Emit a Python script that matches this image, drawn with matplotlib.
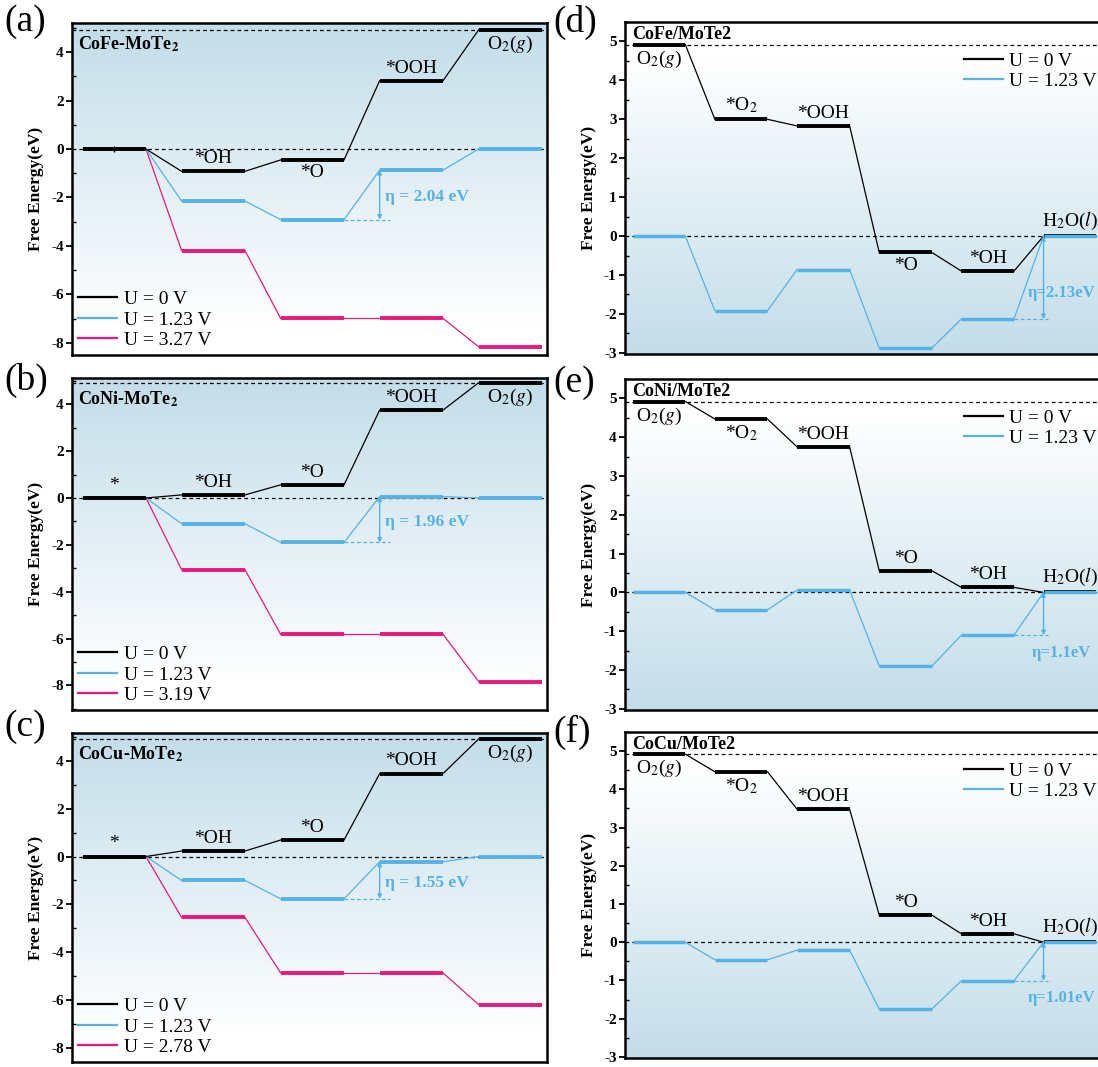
import numpy as np
import matplotlib
matplotlib.use('Agg')
import matplotlib.pyplot as plt
from matplotlib.colors import LinearSegmentedColormap
from matplotlib.lines import Line2D
from matplotlib.ticker import MultipleLocator

plt.rcParams['font.family'] = ['Liberation Serif', 'DejaVu Serif']
plt.rcParams['mathtext.fontset'] = 'stix'
plt.rcParams['axes.unicode_minus'] = False

BLACK = '#000000'
BLUE = '#55b2e4'
PINK = '#e8187c'
BG = '#c3dde9'

# ---- OER pathways (left column) ----
oer_steps = ['*', '*OH', '*O', '*OOH', 'O$_2$($g$)']
cofe_u0 = [0, -0.92, -0.45, 2.82, 4.92]
cofe_u123 = [0, -2.15, -2.91, -0.87, 0]
cofe_ul = [0, -4.19, -6.99, -6.99, -8.16]
coni_u0 = [0, 0.13, 0.56, 3.75, 4.92]
coni_u123 = [0, -1.10, -1.90, 0.06, 0]
coni_ul = [0, -3.06, -5.82, -5.82, -7.84]
cocu_u0 = [0, 0.23, 0.69, 3.47, 4.92]
cocu_u123 = [0, -1.00, -1.77, -0.22, 0]
cocu_ul = [0, -2.55, -4.87, -4.87, -6.20]
oer_names = ['CoFe-MoTe', 'CoNi-MoTe', 'CoCu-MoTe']
oer_ul = ['3.27', '3.19', '2.78']
oer_eta = ['2.04', '1.96', '1.55']

# ---- ORR pathways (right column) ----
orr_steps = ['O$_2$($g$)', '*O$_2$', '*OOH', '*O', '*OH', 'H$_2$O($l$)']
cofe_orr_u0 = [4.92, 3.00, 2.83, -0.42, -0.90, 0]
cofe_orr_u123 = [0, -1.92, -0.86, -2.88, -2.13, 0]
coni_orr_u0 = [4.92, 4.47, 3.75, 0.56, 0.13, 0]
coni_orr_u123 = [0, -0.45, 0.06, -1.90, -1.10, 0]
cocu_orr_u0 = [4.92, 4.46, 3.48, 0.71, 0.22, 0]
cocu_orr_u123 = [0, -0.46, -0.21, -1.75, -1.01, 0]
orr_names = ['CoFe/MoTe2', 'CoNi/MoTe2', 'CoCu/MoTe2']
orr_eta = ['2.13', '1.1', '1.01']

# label placement: +1 above the level, -1 below
oer_label_side = [[0, 1, -1, 1, -1], [1, 1, 1, 1, -1], [1, 1, 1, 1, -1]]
orr_label_side = [[-1, 1, 1, -1, 1, 1], [-1, -1, 1, 1, 1, 1], [-1, -1, 1, 1, 1, 1]]
orr_eta_text_y = [-1.45, -1.57, -1.47]

LW = 0.64  # level width (in step units)
FW, FH = 1098, 1067


def box(x0, y0, x1, y1):
    return [x0 / FW, 1 - y1 / FH, (x1 - x0) / FW, (y1 - y0) / FH]


def gradient(ax, top_blue):
    cmap = LinearSegmentedColormap.from_list('bg', ['white', BG])
    y = np.linspace(0, 1, 256).reshape(-1, 1)
    g = np.clip((y - 0.08) / 0.92, 0, 1) if top_blue else np.clip((0.9 - y) / 0.9, 0, 1)
    ax.imshow(g, cmap=cmap, vmin=0, vmax=1, extent=[0, 1, 0, 1], origin='lower',
              transform=ax.transAxes, aspect='auto', zorder=0, interpolation='bilinear')


def draw_path(ax, vals, color, z, lw_level=2.8):
    x = np.arange(len(vals))
    for i in range(len(vals) - 1):
        ax.plot([x[i] + LW, x[i + 1]], [vals[i], vals[i + 1]], color=color, lw=0.9, zorder=z)
    for i, v in enumerate(vals):
        ax.plot([x[i], x[i] + LW], [v, v], color=color, lw=lw_level,
                solid_capstyle='butt', zorder=z + 0.5)


def style_axes(ax, major, minor):
    ax.set_xticks([])
    ax.yaxis.set_major_locator(MultipleLocator(major))
    ax.yaxis.set_minor_locator(MultipleLocator(minor))
    ax.tick_params(axis='y', which='major', direction='out', length=4, width=1.3,
                   labelsize=11, pad=2)
    ax.tick_params(axis='y', which='minor', direction='in', length=3, width=1.0)
    for lab in ax.get_yticklabels():
        lab.set_fontweight('bold')
    for s in ax.spines.values():
        s.set_linewidth(1.8)
    ax.set_ylabel('Free Energy(eV)', fontweight='bold', fontsize=12.5, labelpad=5)


def level_labels(ax, vals, steps, sides):
    for i, (v, s, side) in enumerate(zip(vals, steps, sides)):
        if side == 0:
            continue
        ax.annotate(s, (i + LW / 2, v), xytext=(0, 3 * side), textcoords='offset points',
                    ha='center', va='bottom' if side > 0 else 'top', fontsize=14, zorder=6)


fig = plt.figure(figsize=(FW / 100, FH / 100), dpi=100)

# ---------------- left column ----------------
oer_data = [(cofe_u0, cofe_u123, cofe_ul), (coni_u0, coni_u123, coni_ul),
            (cocu_u0, cocu_u123, cocu_ul)]
left_rows = [(23, 355), (378, 710), (733, 1062)]
left_ylims = [(-8.5, 5.2), (-9.05, 5.12), (-8.6, 5.17)]
left_tags = ['(a)', '(b)', '(c)']
left_tag_y = [22, 380, 727]

for k in range(3):
    u0, u123, ul = oer_data[k]
    ax = fig.add_axes(box(72, left_rows[k][0], 547, left_rows[k][1]))
    gradient(ax, True)
    ax.axhline(0, color='k', ls=(0, (3, 2.5)), lw=0.9, zorder=1)
    ax.axhline(u0[-1], color='k', ls=(0, (3, 2.5)), lw=0.9, zorder=1)
    draw_path(ax, ul, PINK, 2)
    draw_path(ax, u123, BLUE, 3)
    draw_path(ax, u0, BLACK, 4)
    level_labels(ax, u0, oer_steps, oer_label_side[k])
    if k == 0:
        ax.plot([LW / 2], [u0[0]], marker='|', color='k', ms=5, mew=1, zorder=6)

    # overpotential: largest step of the 1.23 V path
    steps = np.diff(u123)
    j = int(np.argmax(steps))
    lo, hi = u123[j], u123[j + 1]
    xa = j + 1
    ax.plot([j + LW, xa + 0.1], [lo, lo], color=BLUE, ls=(0, (3, 2)), lw=0.9, zorder=5)
    ax.annotate('', xy=(xa, hi), xytext=(xa, lo),
                arrowprops=dict(arrowstyle='<|-|>', color=BLUE, lw=1.0,
                                mutation_scale=6, shrinkA=0, shrinkB=0), zorder=5)
    ax.text(xa + 0.05, (lo + hi) / 2 - 0.1, f'η = {oer_eta[k]} eV', color=BLUE,
            fontweight='bold', fontsize=12.5, ha='left', va='center', zorder=6)

    ax.text(0.012, 0.935, oer_names[k] + r'$_\mathbf{2}$', transform=ax.transAxes,
            fontweight='bold', fontsize=13, ha='left', va='center', zorder=6)

    handles = [Line2D([], [], color=BLACK, lw=1.6), Line2D([], [], color=BLUE, lw=1.6),
               Line2D([], [], color=PINK, lw=1.6)]
    labels = ['U = 0 V', 'U = 1.23 V', f'U = {oer_ul[k]} V']
    ax.legend(handles, labels, loc='lower left', frameon=False, fontsize=14,
              handlelength=2.0, handletextpad=0.35, labelspacing=0.15,
              borderaxespad=0.1, borderpad=0.2)

    ax.set_xlim(-0.107, 4.69)
    ax.set_ylim(*left_ylims[k])
    style_axes(ax, 2, 1)
    fig.text(4 / FW, 1 - left_tag_y[k] / FH, left_tags[k], fontsize=27, ha='left', va='center')

# ---------------- right column ----------------
orr_data = [(cofe_orr_u0, cofe_orr_u123), (coni_orr_u0, coni_orr_u123),
            (cocu_orr_u0, cocu_orr_u123)]
right_rows = [(22, 354), (379, 710), (732, 1058)]
right_tags = ['(d)', '(e)', '(f)']
right_tag_y = [22, 383, 732]

for k in range(3):
    u0, u123 = orr_data[k]
    ax = fig.add_axes(box(625, right_rows[k][0], 1106, right_rows[k][1]))
    gradient(ax, False)
    ax.axhline(0, color='k', ls=(0, (3, 2.5)), lw=0.9, zorder=1)
    ax.axhline(u0[0], color='k', ls=(0, (3, 2.5)), lw=0.9, zorder=1)
    draw_path(ax, u0, BLACK, 3)
    draw_path(ax, u123, BLUE, 4, lw_level=2.5)
    level_labels(ax, u0, orr_steps, orr_label_side[k])

    # overpotential: last uphill step of the 1.23 V path
    steps = np.diff(u123)
    j = int(np.argmax(steps))
    lo, hi = u123[j], u123[j + 1]
    xa = j + 1
    ax.plot([j + LW, xa + 0.05], [lo, lo], color=BLUE, ls=(0, (3, 2)), lw=0.9, zorder=5)
    ax.annotate('', xy=(xa, hi), xytext=(xa, lo),
                arrowprops=dict(arrowstyle='<|-|>', color=BLUE, lw=1.0,
                                mutation_scale=6, shrinkA=0, shrinkB=0), zorder=5)
    ax.text(xa + 0.22, orr_eta_text_y[k], f'η={orr_eta[k]}eV', color=BLUE,
            fontweight='bold', fontsize=12, ha='center', va='center', zorder=6)

    ax.text(0.015, 0.962, orr_names[k], transform=ax.transAxes,
            fontweight='bold', fontsize=13, ha='left', va='center', zorder=6)

    handles = [Line2D([], [], color=BLACK, lw=1.6), Line2D([], [], color=BLUE, lw=1.6)]
    labels = ['U = 0 V', 'U = 1.23 V']
    top_px = right_rows[k][0] + 30
    ax.legend(handles, labels, loc='upper right', frameon=False, fontsize=14,
              handlelength=2.0, handletextpad=0.35, labelspacing=0.15,
              bbox_to_anchor=(1097 / FW, 1 - top_px / FH), bbox_transform=fig.transFigure,
              borderaxespad=0, borderpad=0)

    ax.set_xlim(-0.094, 5.76)
    ax.set_ylim(-3.03, 5.5)
    style_axes(ax, 1, 0.5)
    fig.text(553 / FW, 1 - right_tag_y[k] / FH, right_tags[k], fontsize=27, ha='left', va='center')

fig.savefig('out.png', dpi=100)
